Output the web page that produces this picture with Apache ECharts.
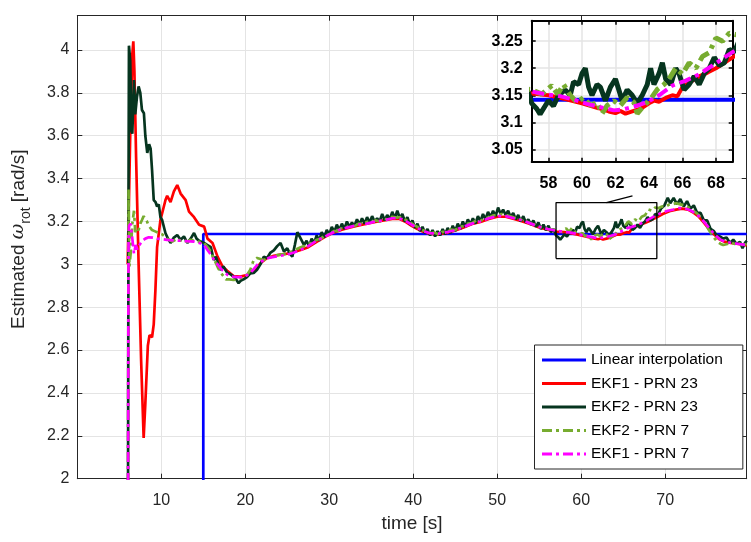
<!DOCTYPE html>
<html><head><meta charset="utf-8">
<script src="https://cdn.jsdelivr.net/npm/echarts@6/dist/echarts.min.js"></script>
<style>html,body{margin:0;padding:0;background:#fff}#c{width:751px;height:542px}</style>
</head><body><div id="c"></div>
<script>
// ---------------- data ----------------
const seriesNames = ['Linear interpolation', 'EKF1 - PRN 23', 'EKF2 - PRN 23', 'EKF2 - PRN 7', 'EKF1 - PRN 7'];
const xTicks = [10, 20, 30, 40, 50, 60, 70];
const yTicks = [2, 2.2, 2.4, 2.6, 2.8, 3, 3.2, 3.4, 3.6, 3.8, 4];
const insetXTicks = [58, 60, 62, 64, 66, 68];
const insetYTicks = [3.05, 3.1, 3.15, 3.2, 3.25];
const zoomT = [57, 69];
const zoomV = [3.027, 3.288];
const connector = [[63, 3.288], [66.1, 3.32]];

const linInterp = [[15, 1.0], [15, 3.1416], [79.7, 3.1416]];

const ekf1_23 = [[6.0,3.0],[6.3,3.6],[6.55,3.98],[6.67,4.04],[6.8,3.9],[7.0,3.5],[7.3,3.0],[7.6,2.55],[7.9,2.19],[8.1,2.35],[8.4,2.62],[8.6,2.67],[8.9,2.66],[9.1,2.72],[9.3,2.88],[9.5,3.08],[9.9,3.207],[10.5,3.30],[10.7,3.32],[11.1,3.29],[11.5,3.34],[11.9,3.37],[12.3,3.33],[12.9,3.30],[13.3,3.246],[13.9,3.22],[14.5,3.185],[15.1,3.176],[15.5,3.12],[16.1,3.10],[16.7,3.036],[17.3,2.99],[17.85,2.97],[18.6,2.945],[19.4,2.943],[20.2,2.95],[21.0,2.97],[21.8,3.005],[22.6,3.03],[23.4,3.04],[24.2,3.045],[25,3.05],[25.8,3.058],[26.6,3.067],[27.5,3.08],[28.5,3.105],[29.5,3.128],[30.5,3.148],[31.5,3.162],[32.5,3.172],[33.5,3.182],[34.5,3.19],[35.5,3.198],[36.5,3.205],[37.5,3.212],[38.3,3.213],[39,3.2],[39.8,3.18],[40.5,3.165],[41.2,3.152],[42,3.142],[43,3.14],[44,3.147],[45,3.158],[46,3.172],[47,3.188],[48,3.198],[49,3.212],[50,3.222],[51,3.222],[52,3.212],[53,3.2],[54,3.187],[55,3.172],[56,3.162],[57,3.153],[58,3.15],[59,3.143],[60,3.135],[61,3.126],[61.6,3.12],[62,3.117],[62.3,3.121],[62.6,3.116],[63,3.12],[63.5,3.125],[64,3.135],[64.3,3.14],[64.6,3.138],[65,3.145],[65.4,3.15],[65.7,3.148],[66,3.165],[66.5,3.175],[67,3.185],[67.5,3.192],[68,3.2],[68.5,3.21],[69,3.22],[69.7,3.235],[70.5,3.248],[71.3,3.255],[72,3.26],[72.7,3.255],[73.4,3.24],[74,3.222],[74.6,3.195],[75.2,3.165],[75.8,3.14],[76.4,3.118],[77,3.106],[77.8,3.1],[78.7,3.095],[79.7,3.088]];

const ekf2_23 = [[6.0,1.0],[6.1,3.35],[6.15,4.02],[6.3,3.95],[6.45,3.62],[6.55,3.61],[6.75,3.86],[6.9,3.7],[7.1,3.78],[7.3,3.83],[7.5,3.8],[7.7,3.72],[7.93,3.705],[8.1,3.6],[8.33,3.52],[8.55,3.56],[8.73,3.54],[8.9,3.44],[9.1,3.30],[9.32,3.29],[9.5,3.27],[9.7,3.28],[9.9,3.22],[10.1,3.207],[10.5,3.145],[10.8,3.12],[11.1,3.10],[11.5,3.125],[11.9,3.137],[12.3,3.115],[12.7,3.13],[13.1,3.10],[13.5,3.12],[13.9,3.146],[14.2,3.12],[14.5,3.11],[15.1,3.10],[15.5,3.09],[15.9,3.08],[16.25,3.02],[16.5,3.036],[16.8,3.0],[17.05,2.974],[17.4,2.99],[17.85,2.96],[18.2,2.955],[18.6,2.943],[18.9,2.93],[19.2,2.912],[19.5,2.925],[19.8,2.93],[20.2,2.94],[20.6,2.958],[21.0,2.96],[21.4,2.975],[21.8,3.0],[22.2,3.035],[22.6,3.03],[23.0,3.055],[23.4,3.065],[23.8,3.085],[24.2,3.10],[24.6,3.06],[25.0,3.075],[25.3,3.05],[25.6,3.036],[25.9,3.09],[26.2,3.15],[26.6,3.12],[27.0,3.09],[27.3,3.11],[27.6,3.085],[27.9,3.12],[28.2,3.10],[28.5,3.135],[28.8,3.11],[29.1,3.15],[29.4,3.125],[29.7,3.16],[30.0,3.14],[30.3,3.175],[30.6,3.15],[30.9,3.185],[31.2,3.16],[31.5,3.19],[31.8,3.165],[32.1,3.2],[32.4,3.175],[32.7,3.195],[33.0,3.18],[33.3,3.21],[33.6,3.185],[33.9,3.215],[34.2,3.19],[34.5,3.22],[34.8,3.195],[35.1,3.225],[35.4,3.2],[35.7,3.215],[36.0,3.2],[36.3,3.235],[36.6,3.205],[36.9,3.23],[37.2,3.21],[37.5,3.245],[37.8,3.215],[38.1,3.25],[38.4,3.215],[38.7,3.235],[39.0,3.2],[39.3,3.22],[39.6,3.185],[39.9,3.205],[40.2,3.17],[40.5,3.19],[40.8,3.155],[41.1,3.175],[41.4,3.145],[41.7,3.165],[42.0,3.135],[42.3,3.16],[42.6,3.13],[42.9,3.155],[43.2,3.135],[43.5,3.165],[43.8,3.14],[44.1,3.17],[44.4,3.145],[44.7,3.18],[45.0,3.155],[45.3,3.19],[45.6,3.165],[45.9,3.2],[46.2,3.175],[46.5,3.21],[46.8,3.185],[47.1,3.215],[47.4,3.19],[47.7,3.225],[48.0,3.2],[48.3,3.235],[48.6,3.21],[48.9,3.245],[49.2,3.22],[49.5,3.25],[49.8,3.225],[50.1,3.265],[50.4,3.235],[50.7,3.255],[51.0,3.23],[51.3,3.25],[51.6,3.22],[51.9,3.24],[52.2,3.21],[52.5,3.23],[52.8,3.2],[53.1,3.225],[53.4,3.195],[53.7,3.21],[54.0,3.185],[54.3,3.205],[54.6,3.175],[54.9,3.195],[55.2,3.165],[55.5,3.185],[55.8,3.16],[56.1,3.18],[56.4,3.15],[56.7,3.165],[57.0,3.135],[57.3,3.125],[57.5,3.115],[57.8,3.13],[58.0,3.14],[58.3,3.13],[58.6,3.15],[59.0,3.16],[59.3,3.15],[59.5,3.175],[59.8,3.17],[60.0,3.19],[60.2,3.2],[60.4,3.165],[60.6,3.15],[60.9,3.17],[61.1,3.165],[61.4,3.14],[61.7,3.165],[62.0,3.18],[62.2,3.16],[62.4,3.14],[62.7,3.16],[63.0,3.15],[63.3,3.135],[63.6,3.15],[63.9,3.17],[64.1,3.2],[64.3,3.17],[64.6,3.19],[64.8,3.21],[65.0,3.18],[65.3,3.17],[65.6,3.2],[65.8,3.19],[66.1,3.16],[66.4,3.17],[66.7,3.185],[67.0,3.17],[67.3,3.19],[67.6,3.2],[67.9,3.22],[68.2,3.205],[68.5,3.21],[68.8,3.235],[69.1,3.23],[69.5,3.26],[69.9,3.275],[70.3,3.31],[70.6,3.285],[71.0,3.31],[71.4,3.28],[71.8,3.305],[72.2,3.27],[72.6,3.295],[73.0,3.26],[73.4,3.275],[73.8,3.24],[74.2,3.24],[74.6,3.205],[75.0,3.205],[75.4,3.165],[75.8,3.155],[76.1,3.135],[76.5,3.13],[76.9,3.12],[77.3,3.125],[77.7,3.1],[78.1,3.115],[78.5,3.095],[78.9,3.105],[79.2,3.075],[79.5,3.1],[79.7,3.11]];

const ekf2_7 = [[6.0,1.0],[6.1,3.35],[6.15,3.2],[6.2,2.99],[6.35,3.05],[6.55,3.19],[6.75,3.25],[6.9,3.15],[7.1,3.17],[7.3,3.16],[7.5,3.19],[7.7,3.207],[7.9,3.225],[8.1,3.23],[8.3,3.2],[8.5,3.18],[8.7,3.17],[8.9,3.16],[9.2,3.155],[9.5,3.15],[10.1,3.14],[10.7,3.12],[11.3,3.106],[11.9,3.12],[12.3,3.11],[12.7,3.115],[13.1,3.105],[13.5,3.115],[13.9,3.11],[14.3,3.106],[14.7,3.105],[15.1,3.1],[15.5,3.08],[15.9,3.06],[16.2,3.03],[16.5,3.006],[16.8,2.98],[17.1,2.96],[17.4,2.945],[17.7,2.93],[18.1,2.93],[18.6,2.927],[19.0,2.93],[19.4,2.935],[19.8,2.94],[20.2,2.95],[20.6,2.975],[21.0,3.02],[21.4,3.03],[21.8,3.025],[22.2,3.02],[22.8,3.03],[23.4,3.04],[24.2,3.045],[25.0,3.05],[25.8,3.065],[26.6,3.08],[27.0,3.085],[27.5,3.095],[28.0,3.1],[28.5,3.115],[29.0,3.12],[29.5,3.135],[30.0,3.14],[30.5,3.155],[31.0,3.155],[31.5,3.17],[32.0,3.172],[32.5,3.18],[33.0,3.178],[33.5,3.19],[34.0,3.188],[34.5,3.198],[35.0,3.195],[35.5,3.205],[36.0,3.2],[36.5,3.212],[37.0,3.21],[37.5,3.222],[38.0,3.218],[38.5,3.22],[39.0,3.21],[39.5,3.2],[40.0,3.185],[40.5,3.175],[41.0,3.16],[41.5,3.155],[42.0,3.145],[42.5,3.148],[43.0,3.14],[43.5,3.152],[44.0,3.15],[44.5,3.162],[45.0,3.16],[45.5,3.175],[46.0,3.178],[46.5,3.19],[47.0,3.192],[47.5,3.205],[48.0,3.203],[48.5,3.215],[49.0,3.218],[49.5,3.228],[50.0,3.23],[50.5,3.235],[51.0,3.228],[51.5,3.225],[52.0,3.218],[52.5,3.215],[53.0,3.205],[53.5,3.2],[54.0,3.19],[54.5,3.185],[55.0,3.175],[55.5,3.172],[56.0,3.165],[56.5,3.162],[57.0,3.16],[57.6,3.152],[58.2,3.168],[58.55,3.152],[58.9,3.17],[59.3,3.15],[59.7,3.137],[60.1,3.146],[60.5,3.131],[60.9,3.137],[61.2,3.116],[61.5,3.131],[61.9,3.14],[62.3,3.131],[62.7,3.146],[63.1,3.137],[63.3,3.116],[63.7,3.131],[64.1,3.143],[64.5,3.161],[64.9,3.17],[65.2,3.18],[65.6,3.2],[66.0,3.189],[66.4,3.21],[66.8,3.2],[67.2,3.222],[67.6,3.229],[68.0,3.256],[68.4,3.25],[68.8,3.265],[69.2,3.262],[69.6,3.27],[70.0,3.268],[70.5,3.28],[71.0,3.282],[71.3,3.285],[71.8,3.28],[72.3,3.275],[72.8,3.265],[73.3,3.25],[73.7,3.24],[74.2,3.22],[74.7,3.195],[75.2,3.16],[75.7,3.13],[76.2,3.105],[76.6,3.095],[76.9,3.09],[77.4,3.095],[77.9,3.1],[78.3,3.095],[78.7,3.1],[79.2,3.09],[79.7,3.095]];

const ekf1_7 = [[6.0,1.0],[6.1,3.10],[6.15,3.18],[6.35,3.19],[6.55,3.12],[6.75,3.05],[6.95,3.09],[7.15,3.07],[7.4,3.09],[7.75,3.11],[8.1,3.12],[8.5,3.126],[9,3.125],[9.5,3.12],[10,3.118],[10.7,3.114],[11.5,3.112],[12.3,3.11],[13,3.108],[13.9,3.106],[14.7,3.098],[15.1,3.09],[15.5,3.067],[16,3.04],[16.3,3.02],[16.7,3.00],[17.1,2.98],[17.5,2.965],[17.9,2.95],[18.5,2.943],[19,2.94],[19.8,2.94],[20.2,2.95],[20.6,2.96],[21,2.978],[21.4,2.997],[21.8,3.01],[22.2,3.02],[22.8,3.03],[23.4,3.035],[24.2,3.04],[25,3.045],[25.8,3.055],[26.6,3.067],[27.5,3.085],[28.5,3.11],[29.5,3.13],[30.5,3.15],[31.5,3.165],[32.5,3.175],[33.5,3.185],[34.5,3.19],[35.5,3.2],[36.5,3.205],[37.5,3.215],[38.3,3.215],[39,3.205],[39.8,3.185],[40.5,3.17],[41.2,3.155],[42,3.145],[43,3.143],[44,3.15],[45,3.16],[46,3.175],[47,3.19],[48,3.2],[49,3.215],[50,3.225],[51,3.225],[52,3.215],[53,3.205],[54,3.19],[55,3.175],[56,3.165],[57,3.157],[57.8,3.152],[58.75,3.148],[59.5,3.142],[60.3,3.134],[61.1,3.128],[61.9,3.122],[62.5,3.124],[63.3,3.131],[63.9,3.137],[64.7,3.152],[65.4,3.168],[66.2,3.177],[67,3.189],[67.8,3.205],[68.8,3.226],[69.5,3.24],[70.3,3.25],[71,3.256],[71.6,3.262],[72.3,3.262],[73,3.252],[73.6,3.238],[74.2,3.218],[74.8,3.19],[75.4,3.16],[76,3.135],[76.6,3.115],[77.2,3.105],[78,3.1],[78.8,3.095],[79.7,3.09]];

// ---------------- chart ----------------
const FONT = '"Liberation Sans", Arial, Helvetica, sans-serif';
const AX = '#262626';
const GRIDC = '#e4e4e4';
const colors = ['#0000ff', '#ff0000', '#06351f', '#77ac30', '#ff00ff'];
const datasets = [linInterp, ekf1_23, ekf2_23, ekf2_7, ekf1_7];
const mainDash = [null, null, null, [10, 4, 3, 4], [10, 4, 3, 4]];
const insetDash = [null, null, null, [12, 5, 4, 5], [12, 5, 4, 5]];
const insetW = [4, 4, 5, 5, 4];

const fmtMainX = v => (xTicks.indexOf(Math.round(v)) >= 0 && Math.abs(v - Math.round(v)) < 1e-6) ? String(Math.round(v)) : '';
const fmtMainY = v => { const r = Math.round(v * 10) / 10; return (Math.abs(v - r) < 1e-6 && r <= 4.0001) ? String(r) : ''; };

const series = [];
datasets.forEach((d, i) => {
  series.push({
    name: seriesNames[i], type: 'line', data: d, xAxisIndex: 0, yAxisIndex: 0,
    showSymbol: false, symbol: 'none', z: 2, clip: true,
    lineStyle: { color: colors[i], width: 2.7, type: mainDash[i] || 'solid', cap: 'butt' },
    itemStyle: { color: colors[i] }
  });
});
series.push({
  type: 'line', data: [[zoomT[0], zoomV[0]], [zoomT[1], zoomV[0]], [zoomT[1], zoomV[1]], [zoomT[0], zoomV[1]], [zoomT[0], zoomV[0]]],
  xAxisIndex: 0, yAxisIndex: 0, showSymbol: false, symbol: 'none', silent: true, z: 3,
  lineStyle: { color: '#000', width: 1.3 }
});
series.push({
  type: 'line', data: connector, xAxisIndex: 0, yAxisIndex: 0, showSymbol: false, symbol: 'none', silent: true, z: 3,
  lineStyle: { color: '#000', width: 1.3 }
});
datasets.forEach((d, i) => {
  series.push({
    name: seriesNames[i], type: 'line', data: d, xAxisIndex: 2, yAxisIndex: 2,
    showSymbol: false, symbol: 'none', z: 8, clip: true,
    lineStyle: { color: colors[i], width: insetW[i], type: insetDash[i] || 'solid', cap: 'butt' },
    itemStyle: { color: colors[i] }
  });
});

const mainGrid = { left: 77.3, right: 4.3, top: 15.7, bottom: 63.3, containLabel: false };
const insetGrid = { left: 531.7, right: 18.3, top: 20.7, bottom: 380.3, containLabel: false, show: true, backgroundColor: '#fff', borderWidth: 0, z: 6 };

const option = {
  animation: false,
  backgroundColor: '#fff',
  textStyle: { fontFamily: FONT },
  grid: [mainGrid, insetGrid],
  legend: {
    data: seriesNames, orient: 'vertical', left: 534.5, top: 345,
    padding: [7, 20, 7, 6], itemGap: 7.5, itemWidth: 44, itemHeight: 14,
    backgroundColor: '#fff', borderColor: AX, borderWidth: 1, borderRadius: 0,
    itemStyle: { opacity: 0 },
    lineStyle: { width: 3 },
    textStyle: { fontFamily: FONT, fontSize: 15.5, color: '#000' }, z: 10
  },
  xAxis: [
    { type: 'value', gridIndex: 0, min: 0, max: 79.7, interval: 10, position: 'bottom', z: 1,
      name: 'time [s]', nameLocation: 'middle', nameGap: 36,
      nameTextStyle: { fontFamily: FONT, fontSize: 19, color: AX },
      axisLine: { show: true, onZero: false, lineStyle: { color: AX, width: 1 } },
      axisTick: { show: true, inside: true, length: 5, lineStyle: { color: AX } },
      axisLabel: { formatter: fmtMainX, fontFamily: FONT, fontSize: 16, color: AX, margin: 14 },
      splitLine: { show: true, lineStyle: { color: GRIDC, width: 1 } } },
    { type: 'value', gridIndex: 0, min: 0, max: 79.7, interval: 10, position: 'top', z: 1,
      axisLine: { show: true, onZero: false, lineStyle: { color: AX, width: 1 } },
      axisTick: { show: true, inside: true, length: 5, lineStyle: { color: AX } },
      axisLabel: { show: false }, splitLine: { show: false } },
    { type: 'value', gridIndex: 1, min: zoomT[0], max: zoomT[1], position: 'bottom', z: 7,
      axisLine: { show: true, onZero: false, lineStyle: { color: '#000', width: 2 } },
      axisTick: { show: true, inside: true, length: 4, customValues: insetXTicks, lineStyle: { color: '#000', width: 1.5 } },
      axisLabel: { customValues: insetXTicks, fontFamily: FONT, fontSize: 16, fontWeight: 'bold', color: '#000', margin: 14 },
      splitLine: { show: true, lineStyle: { color: GRIDC, width: 1.5 } } },
    { type: 'value', gridIndex: 1, min: zoomT[0], max: zoomT[1], position: 'top', z: 7,
      axisLine: { show: true, onZero: false, lineStyle: { color: '#000', width: 2 } },
      axisTick: { show: true, inside: true, length: 4, customValues: insetXTicks, lineStyle: { color: '#000', width: 1.5 } },
      axisLabel: { show: false }, splitLine: { show: false } }
  ],
  yAxis: [
    { type: 'value', gridIndex: 0, min: 2, max: 4.16, interval: 0.2, position: 'left', z: 1,
      name: '{p|Estimated }{w|ω}{s|rot}{n| [rad/s]}', nameLocation: 'middle', nameGap: 44, nameRotate: 90,
      nameTextStyle: { fontFamily: FONT, fontSize: 19, color: AX,
        rich: {
          p: { fontFamily: FONT, fontSize: 19, color: AX, lineHeight: 30, verticalAlign: 'middle', padding: [0, 0, 0, 16] },
          n: { fontFamily: FONT, fontSize: 19, color: AX, lineHeight: 30, verticalAlign: 'middle' },
          w: { fontFamily: '"DejaVu Serif", "Liberation Serif", serif', fontStyle: 'italic', fontSize: 19, color: AX, lineHeight: 30, verticalAlign: 'middle' },
          s: { fontFamily: FONT, fontSize: 14, color: AX, verticalAlign: 'bottom' }
        } },
      axisLine: { show: true, onZero: false, lineStyle: { color: AX, width: 1 } },
      axisTick: { show: true, inside: true, length: 5, lineStyle: { color: AX } },
      axisLabel: { formatter: fmtMainY, fontFamily: FONT, fontSize: 16, color: AX, margin: 8 },
      splitLine: { show: true, lineStyle: { color: GRIDC, width: 1 } } },
    { type: 'value', gridIndex: 0, min: 2, max: 4.16, interval: 0.2, position: 'right', z: 1,
      axisLine: { show: true, onZero: false, lineStyle: { color: AX, width: 1 } },
      axisTick: { show: true, inside: true, length: 5, lineStyle: { color: AX } },
      axisLabel: { show: false }, splitLine: { show: false } },
    { type: 'value', gridIndex: 1, min: zoomV[0], max: zoomV[1], position: 'left', z: 7,
      axisLine: { show: true, onZero: false, lineStyle: { color: '#000', width: 2 } },
      axisTick: { show: true, inside: true, length: 4, customValues: insetYTicks, lineStyle: { color: '#000', width: 1.5 } },
      axisLabel: { customValues: insetYTicks, fontFamily: FONT, fontSize: 16, fontWeight: 'bold', color: '#000', margin: 9 },
      splitLine: { show: true, lineStyle: { color: GRIDC, width: 1.5 } } },
    { type: 'value', gridIndex: 1, min: zoomV[0], max: zoomV[1], position: 'right', z: 7,
      axisLine: { show: true, onZero: false, lineStyle: { color: '#000', width: 2 } },
      axisTick: { show: true, inside: true, length: 4, customValues: insetYTicks, lineStyle: { color: '#000', width: 1.5 } },
      axisLabel: { show: false }, splitLine: { show: false } }
  ],
  series: series
};
const chart = echarts.init(document.getElementById('c'), null, { renderer: 'canvas' });
chart.setOption(option);
</script>
</body></html>
